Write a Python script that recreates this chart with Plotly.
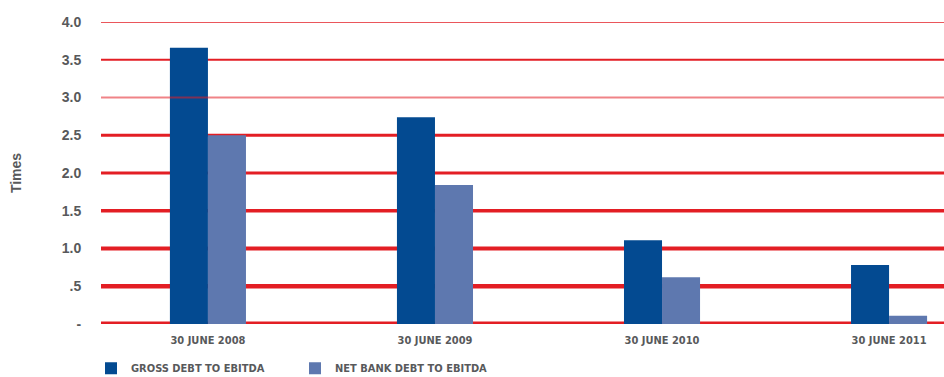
import plotly.graph_objects as go

categories = ["30 JUNE 2008", "30 JUNE 2009", "30 JUNE 2010", "30 JUNE 2011"]
gross_debt = [3.66, 2.74, 1.11, 0.78]
net_bank_debt = [2.50, 1.84, 0.62, 0.11]
y_ticks = [0, 0.5, 1.0, 1.5, 2.0, 2.5, 3.0, 3.5, 4.0]
y_tick_labels = ["-", ".5", "1.0", "1.5", "2.0", "2.5", "3.0", "3.5", "4.0"]
grid_widths = [5, 4.5, 4, 3.5, 3, 3, 2, 2, 1.5]

x = list(range(len(categories)))
gray = "#58595b"
narrow = "DejaVu Sans Condensed, Liberation Sans Narrow, Arial Narrow, sans-serif"

fig = go.Figure()
fig.add_trace(go.Bar(x=x, y=gross_debt, name="<b>GROSS DEBT TO EBITDA</b>",
                     marker=dict(color="#034a91", line=dict(width=0))))
fig.add_trace(go.Bar(x=x, y=net_bank_debt, name="<b>NET BANK DEBT TO EBITDA</b>",
                     marker=dict(color="#5e78af", line=dict(width=0))))

shapes = []
for v, w in zip(y_ticks, grid_widths):
    above = (v == 3.0)
    shapes.append(dict(type="line", xref="paper", x0=0, x1=1, yref="y", y0=v, y1=v,
                       line=dict(color="rgba(227,30,36,0.55)" if above else "#e31e24", width=w),
                       layer="above" if above else "below"))

fig.update_layout(
    width=944, height=377,
    margin=dict(l=101, r=0, t=22, b=53, autoexpand=False),
    paper_bgcolor="white", plot_bgcolor="white",
    barmode="group", bargap=0.665, bargroupgap=0,
    shapes=shapes,
    xaxis=dict(range=[-0.471, 3.242], tickvals=x, ticktext=["<b>%s</b>" % c for c in categories],
               showgrid=False, zeroline=False, showline=False, ticks="outside", ticklen=6,
               tickcolor="rgba(0,0,0,0)",
               tickfont=dict(family=narrow, size=11, color=gray)),
    yaxis=dict(range=[0, 4], tickvals=y_ticks, ticktext=["<b>%s</b>" % t for t in y_tick_labels],
               showgrid=False, zeroline=False, showline=False, ticks="outside", ticklen=16,
               tickcolor="rgba(0,0,0,0)",
               tickfont=dict(family="Liberation Sans, Arial, sans-serif", size=14, color=gray),
               title=dict(text="<b>Times</b>", standoff=36,
                          font=dict(family="Liberation Sans, Arial, sans-serif", size=14, color=gray))),
    legend=dict(orientation="h", x=91 / 944, xref="container", xanchor="left",
                y=0.062, yref="container", yanchor="top",
                entrywidth=159, entrywidthmode="pixels", traceorder="normal",
                font=dict(family=narrow, size=11, color=gray), itemwidth=30,
                bgcolor="rgba(0,0,0,0)"),
    showlegend=True,
)

fig.write_html("out.html")
